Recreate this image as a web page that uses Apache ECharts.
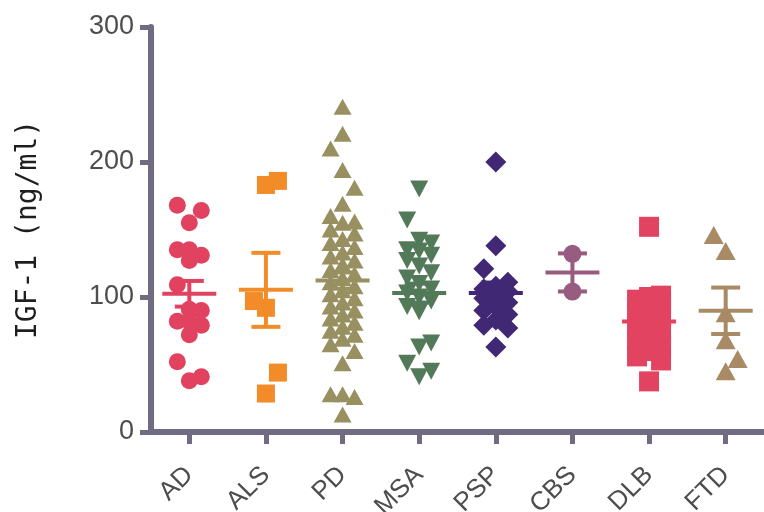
<!DOCTYPE html>
<html><head><meta charset="utf-8">
<script src="https://cdn.jsdelivr.net/npm/echarts@6/dist/echarts.min.js"></script>
<style>html,body{margin:0;padding:0;background:#fff}#c{width:764px;height:512px}</style>
</head><body><div id="c"></div>
<script>
// ---- data ----
const categories = ['AD', 'ALS', 'PD', 'MSA', 'PSP', 'CBS', 'DLB', 'FTD'];
const AD  = [168, 164, 155, 135, 135, 131, 127, 109, 91, 90, 82, 82, 79, 72, 52, 41, 38];
const ALS = [186, 183, 97, 92, 44, 28.5];
const PD  = [241, 221, 210, 194, 181, 169, 160, 156, 155, 150, 147, 143, 140, 137, 133, 130, 127, 124, 120, 117, 114, 111, 108, 105, 102, 99, 96, 93, 90, 87, 84, 81, 78, 75, 72, 69, 65, 60, 51, 28, 28, 26, 13];
const MSA = [180, 157, 142, 140, 135, 134, 131, 127, 123, 118, 114, 110, 106, 103, 100, 97, 93, 89, 66, 63, 51, 45, 41];
const PSP = [200, 138, 121, 111, 108, 106, 104, 101, 99, 96, 93, 90, 87, 83, 79, 77, 63];
const CBS = [132, 104];
const DLB = [152, 101, 100, 98, 95, 92, 89, 85, 80, 77, 74, 71, 68, 65, 60, 56, 53, 37.5];
const FTD = [146, 134, 88, 68, 54, 45];
const means = [102.4, 105.3, 112.2, 102.9, 102.9, 118.2, 81.9, 89.8];
const sems  = [9.5, 27.4, 6, 7, 7.8, 14.1, 5.5, 17.2];
const yTicks = [0, 100, 200, 300];
const groups = [AD, ALS, PD, MSA, PSP, CBS, DLB, FTD];

// ---- styles ----
const styles = [
  {color: '#E0425F', symbol: 'circle',   size: [17, 17], rot: 0},
  {color: '#F28C28', symbol: 'rect',     size: [18, 18], rot: 0},
  {color: '#989060', symbol: 'triangle', size: [18, 16], rot: 0},
  {color: '#537A58', symbol: 'triangle', size: [18, 17], rot: 180},
  {color: '#402874', symbol: 'diamond',  size: [21, 21], rot: 0},
  {color: '#985C80', symbol: 'circle',   size: [18, 18], rot: 0},
  {color: '#E24360', symbol: 'rect',     size: [20, 20], rot: 0},
  {color: '#A88A64', symbol: 'triangle', size: [20, 18], rot: 0}
];
const AXIS = '#706B80';
const FONT = '"Liberation Sans", Arial, sans-serif';
const TITLE_FONT = '"DejaVu Sans Mono", monospace';

const W = 764, H = 512;
const GRID = {left: 151, right: 0, top: 27, bottom: 80};
const yMin = yTicks[0], yMax = yTicks[yTicks.length - 1];
const pxPerCat = (W - GRID.left - GRID.right) / categories.length;
const pxPerVal = (H - GRID.top - GRID.bottom) / (yMax - yMin);

// deterministic 3-column swarm layout
function swarm(values, sizePx) {
  const colPx = 12, T = 1.5 * sizePx;
  const order = values.map((v, i) => i).sort((a, b) => values[a] - values[b]);
  const cols = {'0': [], '1': [], '-1': []};
  const off = new Array(values.length);
  let pref = 1;
  for (const i of order) {
    const y = values[i] * pxPerVal;
    const md = c => { let m = Infinity; for (const yy of cols[c]) m = Math.min(m, Math.abs(yy - y)); return m; };
    let ch;
    if (md(0) >= T) ch = 0;
    else if (md(pref) >= T) { ch = pref; pref = -pref; }
    else if (md(-pref) >= T) { ch = -pref; }
    else {
      const cand = [0, pref, -pref];
      ch = cand.reduce((b, c) => md(c) > md(b) ? c : b, 0);
      if (ch === pref) pref = -pref;
    }
    cols[ch].push(y);
    off[i] = ch * colPx / pxPerCat;
  }
  return off;
}

const series = groups.map((vals, gi) => {
  const st = styles[gi];
  const off = swarm(vals, st.size[1]);
  return {
    type: 'scatter', name: categories[gi], xAxisIndex: 1, yAxisIndex: 0,
    symbol: st.symbol, symbolSize: st.size, symbolRotate: st.rot,
    itemStyle: {color: st.color, opacity: 1},
    emphasis: {disabled: true}, silent: true, z: 2,
    data: vals.map((v, i) => [gi + off[i], v])
  };
});

series.push({
  type: 'custom', xAxisIndex: 1, yAxisIndex: 0, silent: true, z: 5,
  data: categories.map((c, i) => [i, means[i], sems[i]]),
  encode: {x: 0, y: 1},
  renderItem: function (params, api) {
    const i = api.value(0), m = api.value(1), s = api.value(2);
    const c = api.coord([i, m]);
    const t = api.coord([i, m + s]);
    const b = api.coord([i, m - s]);
    const color = styles[params.dataIndex].color;
    const st = {stroke: color, lineWidth: 4};
    return {type: 'group', children: [
      {type: 'line', shape: {x1: c[0] - 27, y1: c[1], x2: c[0] + 27, y2: c[1]}, style: st},
      {type: 'line', shape: {x1: c[0], y1: t[1], x2: c[0], y2: b[1]}, style: st},
      {type: 'line', shape: {x1: c[0] - 14.5, y1: t[1], x2: c[0] + 14.5, y2: t[1]}, style: st},
      {type: 'line', shape: {x1: c[0] - 14.5, y1: b[1], x2: c[0] + 14.5, y2: b[1]}, style: st}
    ]};
  }
});

const chart = echarts.init(document.getElementById('c'), null, {renderer: 'canvas'});
chart.setOption({
  backgroundColor: '#ffffff',
  animation: false,
  grid: Object.assign({containLabel: false, outerBoundsMode: 'none'}, GRID),
  xAxis: [
    {
      type: 'category', data: categories, boundaryGap: true,
      axisLine: {show: true, onZero: false, lineStyle: {color: AXIS, width: 6}},
      axisTick: {show: true, alignWithLabel: true, length: 12, lineStyle: {color: AXIS, width: 5}},
      axisLabel: {show: true, interval: 0, rotate: 45, margin: 39, fontSize: 26, color: '#4d4d4d', fontFamily: FONT},
      splitLine: {show: false}
    },
    {
      type: 'value', min: -0.5, max: categories.length - 0.5, show: false
    }
  ],
  yAxis: [{
    type: 'value', min: yMin, max: yMax, interval: yTicks[1] - yTicks[0],
    name: 'IGF-1 (ng/ml)', nameLocation: 'middle', nameRotate: 90, nameGap: 108,
    nameMoveOverlap: false,
    nameTextStyle: {fontSize: 28, color: '#1e1e1e', fontFamily: TITLE_FONT},
    axisLine: {show: true, onZero: false, lineStyle: {color: AXIS, width: 6}},
    axisTick: {show: true, length: 11, lineStyle: {color: AXIS, width: 5}},
    axisLabel: {show: true, margin: 17, fontSize: 27, color: '#4d4d4d', fontFamily: FONT},
    splitLine: {show: false}
  }],
  series: series
});
</script>
</body></html>
